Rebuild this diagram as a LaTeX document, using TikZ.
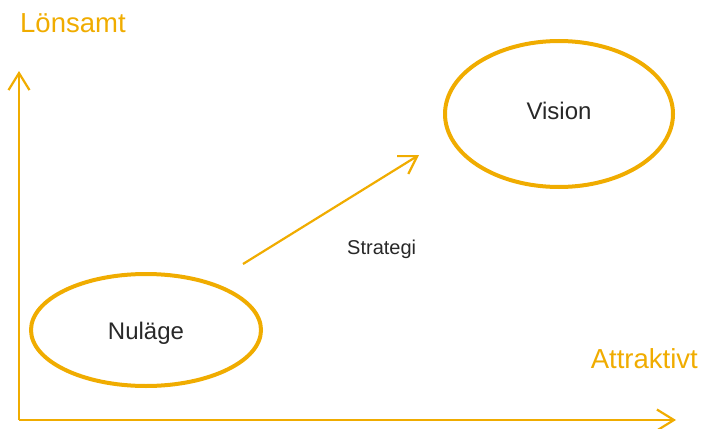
\documentclass[tikz,border=0pt]{standalone}
\usepackage{fontspec}
\setmainfont{Liberation Sans}
\usetikzlibrary{arrows.meta,shapes.geometric}
\definecolor{gold}{RGB}{240,172,0}
\definecolor{ink}{RGB}{40,40,40}
\tikzset{
  axis/.style={draw=gold, line width=2.2pt, -{Straight Barb[length=17pt,width=21pt,line width=2.2pt]}},
  stage/.style={ellipse, draw=gold, line width=4pt},
  stagetext/.style={text=ink, font=\fontsize{24}{28}\selectfont, inner sep=0pt},
  axislabel/.style={text=gold, font=\fontsize{27.5}{32}\selectfont, inner sep=0pt},
  steplabel/.style={text=ink, font=\fontsize{20}{24}\selectfont, inner sep=0pt}
}
\begin{document}
\begin{tikzpicture}[x=1pt,y=-1pt]
  \useasboundingbox (0,0) rectangle (706,428);
  % axes
  \coordinate (origin) at (19,420);
  \coordinate (ytip) at (19,71);
  \coordinate (xtip) at (676,420);
  \draw[axis] (origin) -- (ytip);
  \draw[axis] (origin) -- (xtip);
  \node[axislabel, anchor=base west] (ylab) at (20,33) {Lönsamt};
  \node[axislabel, anchor=base east] (xlab) at (698,368) {Attraktivt};
  % present state and vision
  \node[stage, minimum width=230pt, minimum height=112pt] (now) at (146,330) {};
  \node[stagetext] (nowtext) at (146,333) {Nuläge};
  \node[stage, minimum width=228pt, minimum height=146pt] (vision) at (559,114) {};
  \node[stagetext] (visiontext) at (559,111) {Vision};
  % strategy arrow
  \coordinate (sfrom) at (243,264);
  \coordinate (sto) at (419,155);
  \draw[axis] (sfrom) -- (sto);
  \node[steplabel, anchor=base west] (strat) at (347,254) {Strategi};
\end{tikzpicture}
\end{document}
